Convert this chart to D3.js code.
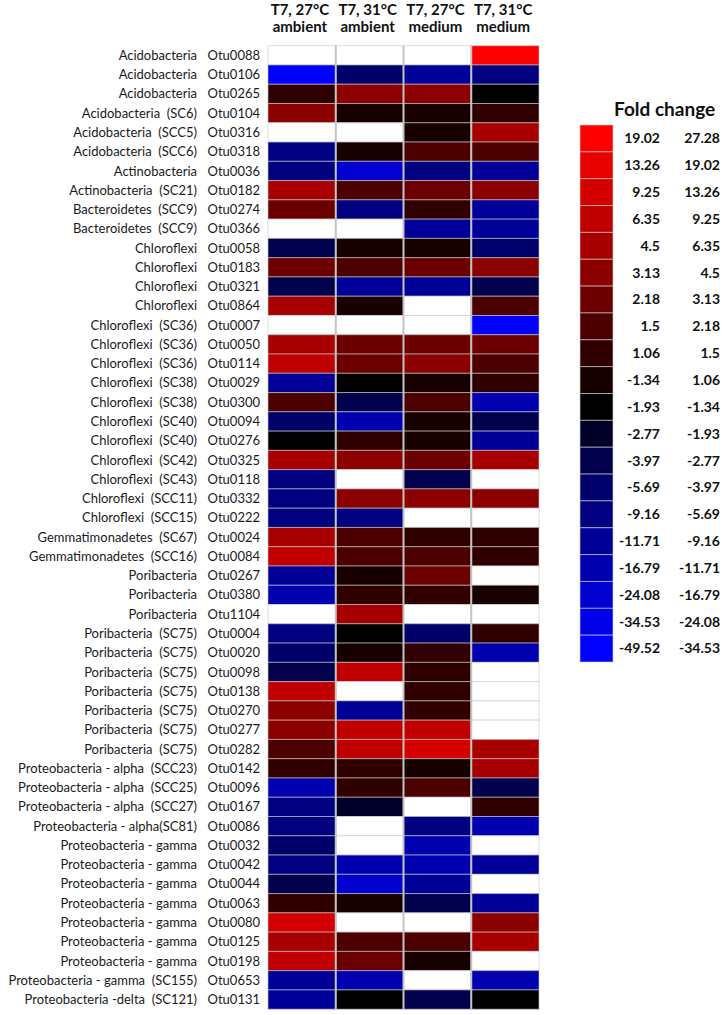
<!DOCTYPE html>
<html><head><meta charset="utf-8">
<script src="https://cdn.jsdelivr.net/npm/d3@7"></script>
<style>body{margin:0;background:#fff} svg{display:block}</style>
</head><body>
<svg id="chart" width="724" height="1015"></svg>
<script>
// ---- data ----
const columnHeaders = [["T7, 27°C","ambient"],["T7, 31°C","ambient"],["T7, 27°C","medium"],["T7, 31°C","medium"]];
const taxa = ["Acidobacteria","Acidobacteria","Acidobacteria","Acidobacteria  (SC6)","Acidobacteria  (SCC5)","Acidobacteria  (SCC6)","Actinobacteria","Actinobacteria  (SC21)","Bacteroidetes  (SCC9)","Bacteroidetes  (SCC9)",
"Chloroflexi","Chloroflexi","Chloroflexi","Chloroflexi","Chloroflexi  (SC36)","Chloroflexi  (SC36)","Chloroflexi  (SC36)","Chloroflexi  (SC38)","Chloroflexi  (SC38)","Chloroflexi  (SC40)",
"Chloroflexi  (SC40)","Chloroflexi  (SC42)","Chloroflexi  (SC43)","Chloroflexi  (SCC11)","Chloroflexi  (SCC15)","Gemmatimonadetes  (SC67)","Gemmatimonadetes  (SCC16)","Poribacteria","Poribacteria","Poribacteria",
"Poribacteria  (SC75)","Poribacteria  (SC75)","Poribacteria  (SC75)","Poribacteria  (SC75)","Poribacteria  (SC75)","Poribacteria  (SC75)","Poribacteria  (SC75)","Proteobacteria - alpha  (SCC23)","Proteobacteria - alpha  (SCC25)","Proteobacteria - alpha  (SCC27)",
"Proteobacteria - alpha(SC81)","Proteobacteria - gamma","Proteobacteria - gamma","Proteobacteria - gamma","Proteobacteria - gamma","Proteobacteria - gamma","Proteobacteria - gamma","Proteobacteria - gamma","Proteobacteria - gamma  (SC155)","Proteobacteria -delta  (SC121)"];
const otus = ["Otu0088","Otu0106","Otu0265","Otu0104","Otu0316","Otu0318","Otu0036","Otu0182","Otu0274","Otu0366",
"Otu0058","Otu0183","Otu0321","Otu0864","Otu0007","Otu0050","Otu0114","Otu0029","Otu0300","Otu0094",
"Otu0276","Otu0325","Otu0118","Otu0332","Otu0222","Otu0024","Otu0084","Otu0267","Otu0380","Otu1104",
"Otu0004","Otu0020","Otu0098","Otu0138","Otu0270","Otu0277","Otu0282","Otu0142","Otu0096","Otu0167",
"Otu0086","Otu0032","Otu0042","Otu0044","Otu0063","Otu0080","Otu0125","Otu0198","Otu0653","Otu0131"];
// fold change per condition (null = no value / white)
const t27ambient = [null,-41.5,1.3,3.8,null,-7.2,-7.0,5.4,2.6,null,
-3.3,2.6,-3.2,5.3,null,5.5,7.8,-10.3,1.8,-4.8,
-1.6,5.4,-7.2,-7.3,-7.1,5.4,7.9,-10.4,-12.0,null,
-7.2,-4.8,-3.4,7.7,4.2,4.0,1.8,1.3,-14.1,-7.2,
-7.4,-4.8,-7.1,-3.3,1.3,11.2,5.6,6.6,-10.3,-10.5];
const t31ambient = [null,-4.8,3.8,1.0,null,1.0,-20.2,1.8,-7.2,null,
1.0,1.8,-10.3,1.0,null,2.6,2.7,-1.6,-3.3,-14.1,
1.3,3.8,null,3.9,-7.2,1.8,1.9,1.0,1.3,5.4,
-1.6,1.0,7.0,null,-10.3,7.8,7.9,1.3,1.3,-2.3,
null,null,-14.1,-20.2,1.0,null,1.8,2.6,-14.2,-1.6];
const t27medium = [null,-10.3,3.8,1.0,1.0,1.8,-7.2,2.6,1.3,-10.3,
1.0,2.6,-10.4,null,null,2.6,3.8,1.0,1.8,1.0,
1.0,2.7,-3.3,3.9,null,1.3,1.8,2.6,1.3,null,
-4.8,1.3,1.4,1.3,1.3,7.8,11.2,1.0,1.8,null,
-7.2,-14.1,-12.5,-10.3,-3.3,null,1.8,1.0,null,-3.3];
const t31medium = [22.5,-7.2,-1.6,1.3,5.4,1.8,-10.3,3.8,-10.2,-10.3,
-4.8,3.8,-3.3,1.8,-41.5,2.6,1.8,1.3,-14.1,-3.3,
-10.3,5.4,null,3.8,null,1.3,1.2,null,1.0,null,
1.3,-14.1,null,null,null,null,5.4,5.8,-3.3,1.3,
-14.1,null,-10.3,null,-10.3,3.8,5.4,null,-14.1,-1.6];
// legend bins, listed top to bottom
const legendLower = [19.02,13.26,9.25,6.35,4.5,3.13,2.18,1.5,1.06,-1.34,-1.93,-2.77,-3.97,-5.69,-9.16,-11.71,-16.79,-24.08,-34.53,-49.52];
const legendUpper = [27.28,19.02,13.26,9.25,6.35,4.5,3.13,2.18,1.5,1.06,-1.34,-1.93,-2.77,-3.97,-5.69,-9.16,-11.71,-16.79,-24.08,-34.53];
const legendColors = ["#ff0000","#e80000","#d40000","#c00000","#a80000","#8c0000","#6c0000","#4c0000","#300000","#180000",
"#000000","#00002a","#00004c","#00006a","#000080","#000098","#0000b0","#0000d0","#0000e8","#0000ff"];

// ---- build ----
const series = [t27ambient, t31ambient, t27medium, t31medium];
const svg = d3.select("#chart");
const FONT = "Lato, 'Open Sans', sans-serif";

const x = d3.scaleBand().domain(d3.range(4)).range([268, 539]);
const y = d3.scaleBand().domain(d3.range(otus.length)).range([45.7, 45.7 + 50 * 19.27]);
const color = d3.scaleThreshold()
  .domain(legendLower.slice(0, legendLower.length - 1).reverse())
  .range(legendColors.slice().reverse());

// headers
const hdr = svg.append("g").attr("font-family", FONT).attr("font-weight", "bold")
  .attr("font-size", 15).attr("fill", "#111").attr("text-anchor", "middle");
columnHeaders.forEach((lines, i) => {
  lines.forEach((t, j) => {
    hdr.append("text").attr("x", x(i) + x.bandwidth() / 2 - 2).attr("y", 15 + j * 17).text(t);
  });
});

// row labels
const lab = svg.append("g").attr("font-family", FONT).attr("font-size", 13).attr("fill", "#1a1a1a");
lab.selectAll("text.tax").data(taxa).join("text").attr("class", "tax")
  .attr("x", 197).attr("y", (d, i) => y(i) + y.bandwidth() / 2).attr("dy", "0.35em")
  .attr("text-anchor", "end").text(d => d.replace(/  /g, " \u00a0"));
lab.selectAll("text.otu").data(otus).join("text").attr("class", "otu")
  .attr("x", 260).attr("y", (d, i) => y(i) + y.bandwidth() / 2).attr("dy", "0.35em")
  .attr("text-anchor", "end").text(d => d);

// cells
const cells = [];
series.forEach((s, c) => s.forEach((v, r) => cells.push({c, r, v})));
svg.append("g").selectAll("rect").data(cells).join("rect")
  .attr("x", d => x(d.c)).attr("y", d => y(d.r))
  .attr("width", x.bandwidth()).attr("height", y.bandwidth())
  .attr("fill", d => d.v == null ? "#ffffff" : color(d.v))
  .attr("stroke", "rgba(200,200,200,0.6)").attr("stroke-width", 1);

// column separators
svg.append("g").selectAll("line").data([1, 2, 3]).join("line")
  .attr("x1", d => x(d)).attr("x2", d => x(d))
  .attr("y1", y.range()[0]).attr("y2", y.range()[1])
  .attr("stroke", "#c4c4c4").attr("stroke-width", 2);

// legend
const ly = d3.scaleBand().domain(d3.range(legendLower.length)).range([125, 125 + 20 * 26.85]);
const leg = svg.append("g");
leg.append("text").attr("x", 614).attr("y", 116).attr("font-family", FONT)
  .attr("font-weight", "bold").attr("font-size", 19).attr("fill", "#111").text("Fold change");
leg.selectAll("rect").data(legendColors).join("rect")
  .attr("x", 580).attr("y", (d, i) => ly(i)).attr("width", 33).attr("height", ly.bandwidth())
  .attr("fill", d => d).attr("stroke", "rgba(210,210,210,0.6)").attr("stroke-width", 1);
const lt = leg.append("g").attr("font-family", FONT).attr("font-weight", "bold")
  .attr("font-size", 14).attr("fill", "#111").attr("text-anchor", "end");
lt.selectAll("text.lo").data(legendLower).join("text").attr("class", "lo")
  .attr("x", 660).attr("y", (d, i) => ly(i) + ly.bandwidth() / 2).attr("dy", "0.35em").text(d => d);
lt.selectAll("text.hi").data(legendUpper).join("text").attr("class", "hi")
  .attr("x", 720).attr("y", (d, i) => ly(i) + ly.bandwidth() / 2).attr("dy", "0.35em").text(d => d);
</script>
</body></html>
